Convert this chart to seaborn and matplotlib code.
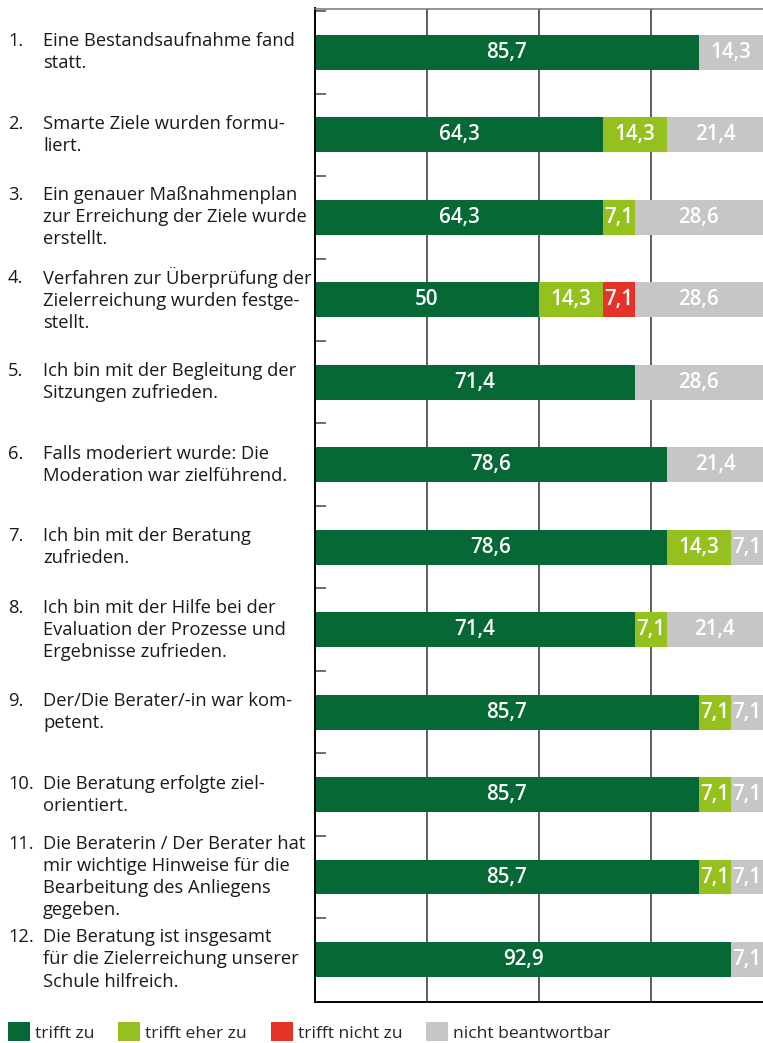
import pandas as pd
import seaborn as sns
import matplotlib.pyplot as plt
from matplotlib.patches import Patch
from matplotlib.transforms import blended_transform_factory

# Items (numbering and wrapped text as in the original)
numbers = ['1.', '2.', '3.', '4.', '5.', '6.', '7.', '8.', '9.', '10.', '11.', '12.']
items = [
    'Eine Bestandsaufnahme fand\nstatt.',
    'Smarte Ziele wurden formu-\nliert.',
    'Ein genauer Maßnahmenplan\nzur Erreichung der Ziele wurde\nerstellt.',
    'Verfahren zur Überprüfung der\nZielerreichung wurden festge-\nstellt.',
    'Ich bin mit der Begleitung der\nSitzungen zufrieden.',
    'Falls moderiert wurde: Die\nModeration war zielführend.',
    'Ich bin mit der Beratung\nzufrieden.',
    'Ich bin mit der Hilfe bei der\nEvaluation der Prozesse und\nErgebnisse zufrieden.',
    'Der/Die Berater/-in war kom-\npetent.',
    'Die Beratung erfolgte ziel-\norientiert.',
    'Die Beraterin / Der Berater hat\nmir wichtige Hinweise für die\nBearbeitung des Anliegens\ngegeben.',
    'Die Beratung ist insgesamt\nfür die Zielerreichung unserer\nSchule hilfreich.',
]

# Percentages per answer
trifft_zu = [85.7, 64.3, 64.3, 50, 71.4, 78.6, 78.6, 71.4, 85.7, 85.7, 85.7, 92.9]
eher_zu = [0, 14.3, 7.1, 14.3, 0, 0, 14.3, 7.1, 7.1, 7.1, 7.1, 0]
nicht_zu = [0, 0, 0, 7.1, 0, 0, 0, 0, 0, 0, 0, 0]
nicht_beantw = [14.3, 21.4, 28.6, 28.6, 28.6, 21.4, 7.1, 21.4, 7.1, 7.1, 7.1, 7.1]

series = ['trifft zu', 'trifft eher zu', 'trifft nicht zu', 'nicht beantwortbar']
colors = ['#056835', '#95c11f', '#e5332a', '#c6c6c6']

df = pd.DataFrame({'item': [str(i) for i in range(len(items))],
                   'trifft zu': trifft_zu, 'trifft eher zu': eher_zu,
                   'trifft nicht zu': nicht_zu, 'nicht beantwortbar': nicht_beantw})
cum = df[series].cumsum(axis=1)

sns.set_style('white')
plt.rcParams['font.family'] = ['Open Sans', 'DejaVu Sans']
label_size = 13.2
text_color = '#1a1a1a'

fig = plt.figure(figsize=(7.63, 10.43), dpi=100)
ax = fig.add_axes([315 / 763, 1 - 1001.7 / 1043, 448 / 763, 993.2 / 1043])

# stacked bars: draw cumulative totals from the back to the front
for name, color in reversed(list(zip(series, colors))):
    sns.barplot(x=cum[name], y=df['item'], orient='h', color=color, width=0.424,
                saturation=1, linewidth=0, ax=ax)

# value labels
for i in range(len(df)):
    left = 0
    for name in series:
        v = df.loc[i, name]
        if v > 0:
            txt = ('%g' % v).replace('.', ',')
            ax.text(left + v / 2, i, txt, ha='center', va='center', color='white',
                    fontsize=14.8, fontweight='semibold')
        left += v

ax.set_xlim(0, 100)
ax.set_ylim(11.512, -0.532)
ax.set_xticks([25, 50, 75])
ax.set_xticklabels([])
ax.tick_params(axis='x', length=0)
ax.xaxis.grid(True, color='#333333', linewidth=1.1)
ax.set_axisbelow(True)
ax.set_yticks([i - 0.5 for i in range(len(items))])
ax.set_yticklabels([])
ax.tick_params(axis='y', direction='in', length=8, width=1.1, color='#444444', left=True)
ax.set_xlabel('')
ax.set_ylabel('')
ax.spines['right'].set_visible(False)
ax.spines['top'].set_color('#777777')
ax.spines['top'].set_linewidth(1.1)
for s in ['left', 'bottom']:
    ax.spines[s].set_color('black')
    ax.spines[s].set_linewidth(1.4)

# item labels on the left
trans = blended_transform_factory(fig.transFigure, ax.transData)
for i, (num, text) in enumerate(zip(numbers, items)):
    n_lines = text.count('\n')
    ax.text(8 / 763, i, num + '\n' * n_lines, transform=trans, ha='left', va='center',
            fontsize=label_size, color=text_color, linespacing=1.29, clip_on=False)
    ax.text(43 / 763, i, text, transform=trans, ha='left', va='center',
            fontsize=label_size, color=text_color, linespacing=1.29, clip_on=False)

handles = [Patch(facecolor=c, edgecolor='none', label=s) for s, c in zip(series, colors)]
fig.legend(handles=handles, loc='center left', bbox_to_anchor=(8 / 763, 1 - 1032 / 1043),
           ncol=4, frameon=False, fontsize=12.6, handlelength=1.25, handleheight=1.25,
           handletextpad=0.3, columnspacing=1.35, borderpad=0, borderaxespad=0)

fig.savefig('out.png', dpi=100)
